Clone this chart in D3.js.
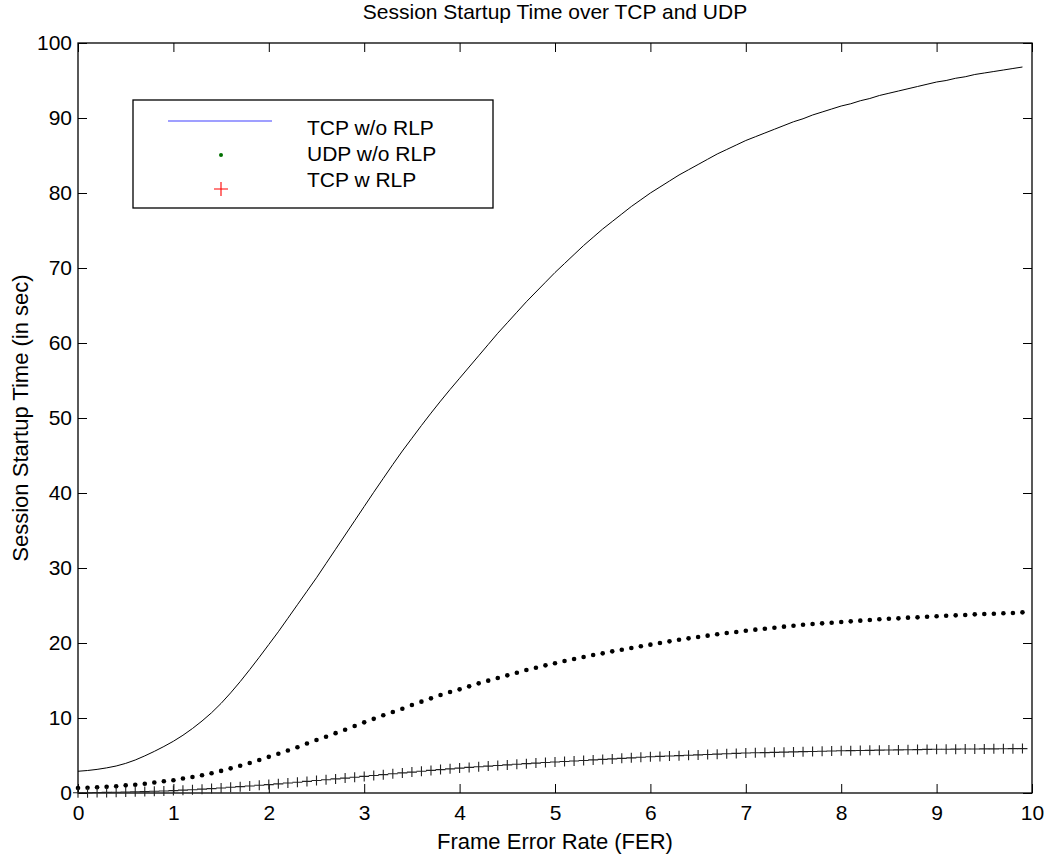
<!DOCTYPE html>
<html>
<head>
<meta charset="utf-8">
<script src="https://cdn.jsdelivr.net/npm/d3@7"></script>
<style>
  body { margin: 0; background: #fff; }
  svg text { font-family: "Liberation Sans", Arial, Helvetica, sans-serif; fill: #000; }
</style>
</head>
<body>
<div id="chart"></div>
<script>
// frame error rate grid (x)
const fer = [
  0.0, 0.1, 0.2, 0.3, 0.4, 0.5, 0.6, 0.7, 0.8, 0.9,
  1.0, 1.1, 1.2, 1.3, 1.4, 1.5, 1.6, 1.7, 1.8, 1.9,
  2.0, 2.1, 2.2, 2.3, 2.4, 2.5, 2.6, 2.7, 2.8, 2.9,
  3.0, 3.1, 3.2, 3.3, 3.4, 3.5, 3.6, 3.7, 3.8, 3.9,
  4.0, 4.1, 4.2, 4.3, 4.4, 4.5, 4.6, 4.7, 4.8, 4.9,
  5.0, 5.1, 5.2, 5.3, 5.4, 5.5, 5.6, 5.7, 5.8, 5.9,
  6.0, 6.1, 6.2, 6.3, 6.4, 6.5, 6.6, 6.7, 6.8, 6.9,
  7.0, 7.1, 7.2, 7.3, 7.4, 7.5, 7.6, 7.7, 7.8, 7.9,
  8.0, 8.1, 8.2, 8.3, 8.4, 8.5, 8.6, 8.7, 8.8, 8.9,
  9.0, 9.1, 9.2, 9.3, 9.4, 9.5, 9.6, 9.7, 9.8, 9.9
];

// TCP w/o RLP (solid line)
const tcpNoRlp = [
  2.9, 3.0, 3.15, 3.35, 3.6, 3.95, 4.4, 4.95, 5.55, 6.2,
  6.9, 7.7, 8.6, 9.6, 10.7, 11.95, 13.35, 14.85, 16.45, 18.1,
  19.8, 21.5, 23.3, 25.1, 26.9, 28.7, 30.6, 32.5, 34.4, 36.3,
  38.2, 40.1, 41.95, 43.8, 45.6, 47.3, 49.0, 50.65, 52.25, 53.8,
  55.3, 56.8, 58.3, 59.8, 61.3, 62.7, 64.1, 65.5, 66.8, 68.1,
  69.4, 70.6, 71.8, 73.0, 74.1, 75.2, 76.2, 77.2, 78.2, 79.1,
  80.0, 80.8, 81.6, 82.4, 83.1, 83.8, 84.5, 85.2, 85.8, 86.4,
  87.0, 87.5, 88.0, 88.5, 89.0, 89.5, 89.9, 90.4, 90.8, 91.2,
  91.6, 91.9, 92.3, 92.6, 93.0, 93.3, 93.6, 93.9, 94.2, 94.5,
  94.8, 95.0, 95.3, 95.5, 95.8, 96.0, 96.2, 96.4, 96.6, 96.8
];

// UDP w/o RLP (dots)
const udpNoRlp = [
  0.67, 0.70, 0.76, 0.82, 0.91, 1.02, 1.11, 1.24, 1.40, 1.56,
  1.71, 1.93, 2.13, 2.36, 2.64, 2.95, 3.29, 3.64, 4.00, 4.40,
  4.82, 5.24, 5.66, 6.11, 6.60, 7.07, 7.51, 7.98, 8.44, 8.93,
  9.42, 9.89, 10.36, 10.80, 11.24, 11.73, 12.18, 12.62, 13.07, 13.47,
  13.82, 14.22, 14.62, 14.98, 15.33, 15.69, 16.04, 16.40, 16.71, 17.02,
  17.31, 17.60, 17.87, 18.13, 18.40, 18.62, 18.89, 19.11, 19.33, 19.56,
  19.78, 20.00, 20.22, 20.44, 20.62, 20.80, 20.98, 21.16, 21.33, 21.47,
  21.64, 21.78, 21.91, 22.04, 22.18, 22.31, 22.44, 22.53, 22.62, 22.71,
  22.80, 22.89, 22.98, 23.07, 23.16, 23.24, 23.29, 23.38, 23.42, 23.51,
  23.56, 23.64, 23.69, 23.73, 23.82, 23.87, 23.91, 23.96, 24.00, 24.09
];

// TCP w RLP (plus markers)
const tcpRlp = [
  0.03, 0.04, 0.06, 0.08, 0.10, 0.13, 0.16, 0.19, 0.23, 0.27,
  0.32, 0.38, 0.44, 0.51, 0.59, 0.67, 0.76, 0.85, 0.94, 1.03,
  1.12, 1.22, 1.33, 1.44, 1.55, 1.66, 1.77, 1.88, 1.99, 2.10,
  2.21, 2.33, 2.45, 2.57, 2.68, 2.79, 2.90, 3.01, 3.12, 3.22,
  3.32, 3.41, 3.50, 3.59, 3.67, 3.75, 3.83, 3.91, 3.99, 4.06,
  4.13, 4.20, 4.27, 4.34, 4.41, 4.48, 4.55, 4.62, 4.69, 4.76,
  4.83, 4.88, 4.93, 4.98, 5.03, 5.08, 5.13, 5.18, 5.23, 5.28,
  5.33, 5.36, 5.39, 5.42, 5.45, 5.48, 5.51, 5.54, 5.57, 5.60,
  5.63, 5.65, 5.67, 5.69, 5.71, 5.73, 5.75, 5.77, 5.79, 5.81,
  5.83, 5.84, 5.85, 5.86, 5.87, 5.88, 5.89, 5.90, 5.91, 5.92
];

const xTicks = [0, 1, 2, 3, 4, 5, 6, 7, 8, 9, 10];
const yTicks = [0, 10, 20, 30, 40, 50, 60, 70, 80, 90, 100];
const legendLabels = ["TCP w/o RLP", "UDP w/o RLP", "TCP w RLP"];

const W = 1048, H = 854;
const margin = {top: 43, right: 16, bottom: 61, left: 78};
const width = W - margin.left - margin.right;
const height = H - margin.top - margin.bottom;

const svg = d3.select("#chart")
    .append("svg")
    .attr("width", W)
    .attr("height", H);

const g = svg.append("g")
    .attr("transform", "translate(" + margin.left + "," + margin.top + ")");

const xScale = d3.scaleLinear().domain([0, 10]).range([0, width]);
const yScale = d3.scaleLinear().domain([0, 100]).range([height, 0]);

// axes, matlab style: ticks point inward on all four sides
const xAxis = g.append("g")
    .attr("transform", "translate(0," + height + ")")
    .call(d3.axisBottom(xScale).tickValues(xTicks).tickSize(-9).tickPadding(12));
const yAxis = g.append("g")
    .call(d3.axisLeft(yScale).tickValues(yTicks).tickSize(-9).tickPadding(6));
const topAxis = g.append("g")
    .call(d3.axisTop(xScale).tickValues(xTicks).tickSize(-9).tickFormat(""));
const rightAxis = g.append("g")
    .attr("transform", "translate(" + width + ",0)")
    .call(d3.axisRight(yScale).tickValues(yTicks).tickSize(-9).tickFormat(""));

[xAxis, yAxis, topAxis, rightAxis].forEach(a => {
    a.select(".domain").remove();
    a.selectAll("line").attr("stroke", "#000");
    a.selectAll("text")
        .style("font-size", "21px")
        .style("font-family", "'Liberation Sans', Arial, sans-serif")
        .attr("fill", "#000");
});

g.append("rect")
    .attr("x", 0).attr("y", 0)
    .attr("width", width).attr("height", height)
    .attr("fill", "none")
    .attr("stroke", "#000")
    .attr("stroke-width", 1.3);

// series
const rows = fer.map((x, i) => ({x: x, a: tcpNoRlp[i], b: udpNoRlp[i], c: tcpRlp[i]}));

g.append("path")
    .datum(rows)
    .attr("fill", "none")
    .attr("stroke", "#000")
    .attr("stroke-width", 1)
    .attr("d", d3.line().x(d => xScale(d.x)).y(d => yScale(d.a)));

g.append("g")
    .selectAll("circle")
    .data(rows)
    .enter()
    .append("circle")
        .attr("cx", d => xScale(d.x))
        .attr("cy", d => yScale(d.b))
        .attr("r", 2.3)
        .attr("fill", "#000");

g.append("g")
    .selectAll("path")
    .data(rows)
    .enter()
    .append("path")
        .attr("transform", d => "translate(" + xScale(d.x) + "," + yScale(d.c) + ")")
        .attr("d", "M-5,0H5M0,-5V5")
        .attr("stroke", "#222")
        .attr("stroke-width", 1.1)
        .attr("fill", "none");

// legend
const legend = g.append("g").attr("transform", "translate(55,57)");
legend.append("rect")
    .attr("x", 0).attr("y", 0)
    .attr("width", 360).attr("height", 108)
    .attr("fill", "#fff")
    .attr("stroke", "#000")
    .attr("stroke-width", 1.3);
legend.append("line")
    .attr("x1", 35).attr("x2", 139)
    .attr("y1", 21).attr("y2", 21)
    .attr("stroke", "#4040ff")
    .attr("stroke-width", 1.2);
legend.append("circle")
    .attr("cx", 88).attr("cy", 55).attr("r", 2)
    .attr("fill", "#007000");
legend.append("path")
    .attr("d", "M81,89H95M88,82V96")
    .attr("stroke", "#ff0000")
    .attr("stroke-width", 1.1);
legend.selectAll("text.lab")
    .data(legendLabels)
    .enter()
    .append("text")
        .attr("class", "lab")
        .attr("x", 174)
        .attr("y", (d, i) => 35 + i * 26)
        .style("font-size", "21px")
        .text(d => d);

// titles
svg.append("text")
    .attr("x", margin.left + width / 2)
    .attr("y", 19)
    .attr("text-anchor", "middle")
    .style("font-size", "21px")
    .text("Session Startup Time over TCP and UDP");

svg.append("text")
    .attr("x", margin.left + width / 2)
    .attr("y", 849)
    .attr("text-anchor", "middle")
    .style("font-size", "22px")
    .text("Frame Error Rate (FER)");

svg.append("text")
    .attr("transform", "translate(28," + (margin.top + height / 2) + ") rotate(-90)")
    .attr("text-anchor", "middle")
    .style("font-size", "22px")
    .text("Session Startup Time (in sec)");
</script>
</body>
</html>
